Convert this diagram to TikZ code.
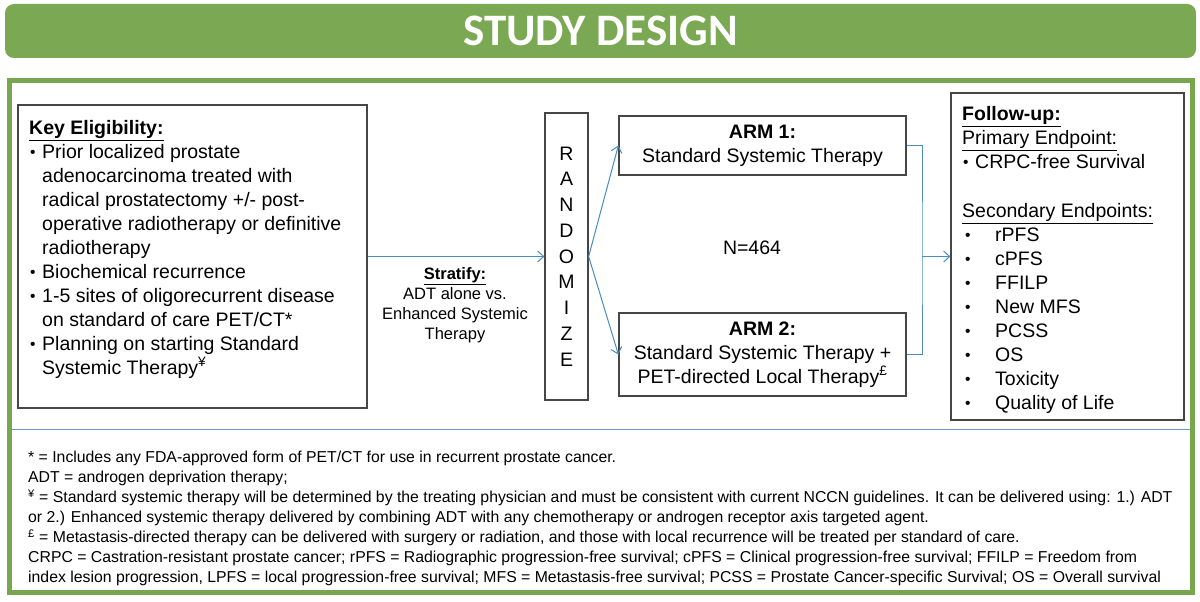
\documentclass[tikz,border=0pt]{standalone}
\usepackage{fontspec}
\setmainfont{Liberation Sans}
\newfontfamily\titlefont{Carlito}
\usetikzlibrary{arrows.meta}
\definecolor{hdrgreen}{RGB}{122,168,83}
\definecolor{framegreen}{RGB}{119,166,78}
\definecolor{arrblue}{RGB}{74,140,196}
\definecolor{rulegray}{RGB}{70,70,70}
\newcommand{\dotmark}{\raisebox{1pt}{\fontsize{15.5}{15.5}\selectfont\textbullet}}
\newcommand{\itm}{\makebox[13pt][l]{\hspace{1pt}\dotmark}}
\newcommand{\cont}{\hspace*{13pt}}
\newcommand{\sitm}{\makebox[33pt][l]{\hspace{3pt}\dotmark}}

\begin{document}
\begin{tikzpicture}[x=1pt,y=-1pt,
    box/.style={draw=rulegray, line width=1.3pt, inner sep=0pt},
    arr/.style={draw=arrblue, line width=1pt, -{Straight Barb[length=6pt,width=11pt]}},
    link/.style={draw=arrblue, line width=1pt},
    body/.style={font=\fontsize{19.5}{24}\selectfont, inner sep=0pt, align=left},
    small/.style={font=\fontsize{15.8}{20}\selectfont, inner sep=0pt, align=left}]
    \useasboundingbox[fill=white] (0,0) rectangle (1200,602);

    \node[fill=hdrgreen, rounded corners=9pt, minimum width=1191pt, minimum height=54pt,
        text=white, font=\titlefont\bfseries\fontsize{45}{45}\selectfont] (title) at (600.5,31) {STUDY DESIGN};
    \draw[framegreen, line width=5pt] (9.5,80.5) rectangle (1192.5,592.5);
    \draw[arrblue!85, line width=1.3pt] (12,429.5) -- (1190,429.5);

    \node[box, minimum width=349pt, minimum height=303pt] (elig) at (192.5,256.5) {};
    \node[body, anchor=north west] (eligtxt) at (29,120) {\underline{\textbf{Key Eligibility:}}\\
        \itm Prior localized prostate\\
        \cont adenocarcinoma treated with\\
        \cont radical prostatectomy +/- post-\\
        \cont operative radiotherapy or definitive\\
        \cont radiotherapy\\
        \itm Biochemical recurrence\\
        \itm 1-5 sites of oligorecurrent disease\\
        \cont on standard of care PET/CT*\\
        \itm Planning on starting Standard\\
        \cont Systemic Therapy\textsuperscript{¥}};

    \node[font=\fontsize{16.5}{20}\selectfont, align=center, inner sep=0pt] (strat) at (455,305)
        {\underline{\textbf{Stratify:}}\\ADT alone vs.\\Enhanced Systemic\\Therapy};

    \node[box, minimum width=43pt, minimum height=287pt, align=center,
        font=\fontsize{19.5}{25.75}\selectfont] (rand) at (566.5,256.5) {R\\A\\N\\D\\O\\M\\I\\Z\\E};

    \node[box, body, align=center, minimum width=287pt, minimum height=59pt] (arm1) at (762.5,145.5)
        {\textbf{ARM 1:}\\Standard Systemic Therapy};
    \node[box, body, align=center, minimum width=287pt, minimum height=83pt] (arm2) at (762.5,354.5)
        {\textbf{ARM 2:}\\Standard Systemic Therapy +\\PET-directed Local Therapy\textsuperscript{£}};
    \node[body] (n) at (752,248) {N=464};

    \node[box, minimum width=233pt, minimum height=327pt] (fu) at (1067.5,256.5) {};
    \node[body, anchor=north west] (futxt) at (962,106) {\underline{\textbf{Follow-up:}}\\
        \underline{Primary Endpoint:}\\
        \itm CRPC-free Survival\\[25pt]
        \underline{Secondary Endpoints:}\\
        \sitm rPFS\\
        \sitm cPFS\\
        \sitm FFILP\\
        \sitm New MFS\\
        \sitm PCSS\\
        \sitm OS\\
        \sitm Toxicity\\
        \sitm Quality of Life};

    \coordinate (mrg) at (922,256.5);
    \draw[arr] (elig.east) -- (rand.west);
    \draw[arr] (rand.east) -- (arm1.west);
    \draw[arr] (rand.east) -- (arm2.west);
    \draw[link] (arm1.east) -| (mrg) |- (arm2.east);
    \draw[arr] (mrg) -- (fu.west);

    \node[small, anchor=north west] (notes) at (28,451) {* = Includes any FDA-approved form of PET/CT for use in recurrent prostate cancer.\\
        ADT = androgen deprivation therapy;\\
        \textsuperscript{¥} = Standard systemic therapy will be determined by the treating physician and must be consistent with current NCCN guidelines. It can be delivered using: 1.) ADT\\
        or 2.) Enhanced systemic therapy delivered by combining ADT with any chemotherapy or androgen receptor axis targeted agent.\\
        \textsuperscript{£} = Metastasis-directed therapy can be delivered with surgery or radiation, and those with local recurrence will be treated per standard of care.\\
        CRPC = Castration-resistant prostate cancer; rPFS = Radiographic progression-free survival; cPFS = Clinical progression-free survival; FFILP = Freedom from\\
        index lesion progression, LPFS = local progression-free survival; MFS = Metastasis-free survival; PCSS = Prostate Cancer-specific Survival; OS = Overall survival};
\end{tikzpicture}
\end{document}
